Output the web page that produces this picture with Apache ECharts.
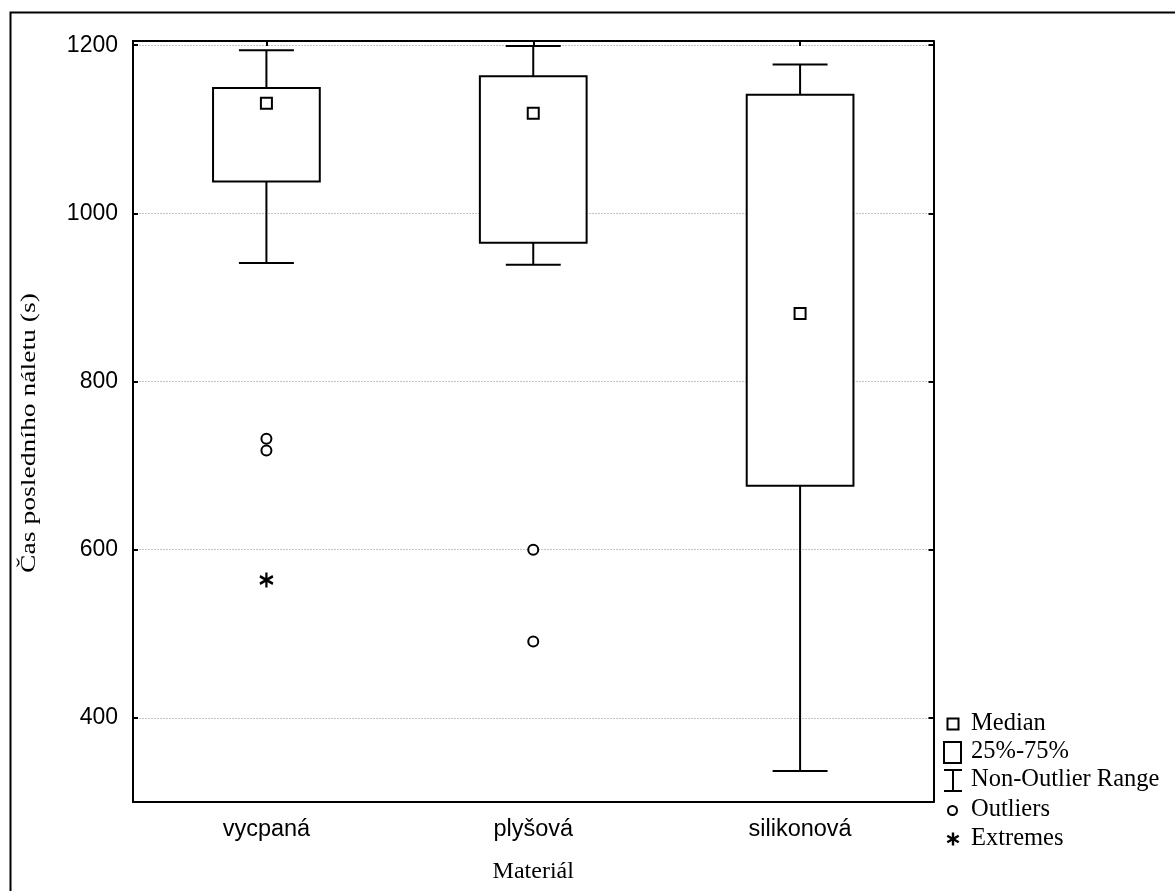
<!DOCTYPE html>
<html>
<head>
<meta charset="utf-8">
<script src="https://cdn.jsdelivr.net/npm/echarts@6/dist/echarts.min.js"></script>
<style>
html,body{margin:0;padding:0;background:#fff;}
#chart{width:1175px;height:891px;}
</style>
</head>
<body>
<div id="chart"></div>
<script>
// ---- data ----
const categories = ['vycpaná', 'plyšová', 'silikonová'];
const whiskerLow  = [941, 939, 337];
const q1          = [1038, 965, 676];
const median      = [1131, 1119, 881];
const q3          = [1149, 1163, 1141];
const whiskerHigh = [1194, 1199, 1177];
const outliers = [['vycpaná', 732], ['vycpaná', 718], ['plyšová', 600], ['plyšová', 491]];
const extremes = [['vycpaná', 564]];
const yTicks = [400, 600, 800, 1000, 1200];
const legendLabels = ['Median', '25%-75%', 'Non-Outlier Range', 'Outliers', 'Extremes'];
const yName = 'Čas posledního náletu (s)';
const xName = 'Materiál';

const chart = echarts.init(document.getElementById('chart'), null, {renderer: 'canvas'});

const boxData = categories.map((c, i) => [i, whiskerLow[i], q1[i], q3[i], whiskerHigh[i]]);
const medianData = categories.map((c, i) => [c, median[i]]);

const SANS = '"Liberation Sans", Arial, sans-serif';
const SERIF = '"Liberation Serif", "Times New Roman", serif';
const asteriskPath = 'path://M0,-6 L0,6 M-5.2,-3 L5.2,3 M-5.2,3 L5.2,-3';

function renderWhisker(params, api) {
  const i = api.value(0);
  const lo = api.coord([i, api.value(1)]);
  const b1 = api.coord([i, api.value(2)]);
  const b3 = api.coord([i, api.value(3)]);
  const hi = api.coord([i, api.value(4)]);
  const band = api.size([1, 0])[0];
  const capHalf = band * 0.103;
  const st = {stroke: '#000', lineWidth: 2, fill: null};
  return {
    type: 'group',
    children: [
      {type: 'line', shape: {x1: hi[0], y1: hi[1], x2: b3[0], y2: b3[1]}, style: st},
      {type: 'line', shape: {x1: lo[0], y1: lo[1], x2: b1[0], y2: b1[1]}, style: st},
      {type: 'line', shape: {x1: hi[0] - capHalf, y1: hi[1], x2: hi[0] + capHalf, y2: hi[1]}, style: st},
      {type: 'line', shape: {x1: lo[0] - capHalf, y1: lo[1], x2: lo[0] + capHalf, y2: lo[1]}, style: st}
    ]
  };
}
function renderBox(params, api) {
  const i = api.value(0);
  const b1 = api.coord([i, api.value(2)]);
  const b3 = api.coord([i, api.value(3)]);
  const band = api.size([1, 0])[0];
  const half = band * 0.2;
  return {
    type: 'rect',
    shape: {x: b3[0] - half, y: b3[1], width: half * 2, height: b1[1] - b3[1]},
    style: {fill: '#fff', stroke: '#000', lineWidth: 2}
  };
}

const yCommon = {
  type: 'value', min: 300, max: 1205, minInterval: 200, maxInterval: 200,
  axisLine: {show: true, lineStyle: {color: '#000', width: 2}},
  axisTick: {show: true, inside: true, length: 5, lineStyle: {color: '#000', width: 2},
    customValues: yTicks},
};

const legendRows = [724, 752, 780, 810, 839];
const LS = {stroke: '#000', lineWidth: 2};
const LS2 = {stroke: '#000', lineWidth: 2.4};
const legendGraphics = [
  {type: 'rect', shape: {x: 10.5, y: 12.5, width: 1300, height: 1000}, style: {fill: 'none', stroke: '#000', lineWidth: 2}, silent: true, z: -1},
  // rotated y-axis title (condensed like the reference)
  {type: 'text', x: 29, y: 433, rotation: Math.PI / 2, scaleX: 1.15, scaleY: 0.9,
    style: {text: yName, font: '24px ' + SERIF, fill: '#000', align: 'center', verticalAlign: 'middle'}},
  {type: 'rect', shape: {x: 947.5, y: 718.5, width: 11, height: 11}, style: {fill: '#fff', stroke: '#000', lineWidth: 2}},
  {type: 'rect', shape: {x: 944, y: 742, width: 17, height: 21}, style: {fill: '#fff', stroke: '#000', lineWidth: 2}},
  {type: 'line', shape: {x1: 944, y1: 770, x2: 962, y2: 770}, style: LS},
  {type: 'line', shape: {x1: 953, y1: 770, x2: 953, y2: 791}, style: LS},
  {type: 'line', shape: {x1: 944, y1: 791, x2: 962, y2: 791}, style: LS},
  {type: 'circle', shape: {cx: 952.5, cy: 810.5, r: 4.5}, style: {fill: '#fff', stroke: '#000', lineWidth: 2}},
  {type: 'line', shape: {x1: 953, y1: 832.5, x2: 953, y2: 845.5}, style: LS2},
  {type: 'line', shape: {x1: 947.3, y1: 835.7, x2: 958.7, y2: 842.3}, style: LS2},
  {type: 'line', shape: {x1: 947.3, y1: 842.3, x2: 958.7, y2: 835.7}, style: LS2}
];
legendLabels.forEach((t, k) => {
  legendGraphics.push({type: 'text', x: 971, y: legendRows[k],
    style: {text: t, font: '24.5px ' + SERIF, fill: '#000', verticalAlign: 'middle', align: 'left'}});
});

const option = {
  backgroundColor: '#fff',
  animation: false,
  grid: {left: 133, top: 41, right: 241.5, bottom: 89, containLabel: false},
  xAxis: [
    {
      type: 'category', data: categories, position: 'bottom',
      axisLine: {show: true, lineStyle: {color: '#000', width: 2}},
      axisTick: {show: false},
      axisLabel: {color: '#000', fontFamily: SANS, fontSize: 23.5, margin: 16},
      name: xName, nameLocation: 'middle', nameGap: 58,
      nameTextStyle: {color: '#000', fontFamily: SERIF, fontSize: 24}
    },
    {
      type: 'category', data: categories, position: 'top',
      axisLine: {show: true, lineStyle: {color: '#000', width: 2}},
      axisTick: {show: true, inside: true, alignWithLabel: true, length: 5, lineStyle: {color: '#000', width: 2}},
      axisLabel: {show: false}
    }
  ],
  yAxis: [
    Object.assign({}, yCommon, {
      position: 'left',
      axisLabel: {color: '#000', fontFamily: SANS, fontSize: 23, margin: 15,
        customValues: yTicks, formatter: (v) => String(v)},
      splitLine: {show: true, lineStyle: {color: '#c4c4c4', width: 1, type: [2, 1]}}
    }),
    Object.assign({}, yCommon, {
      position: 'right',
      axisLabel: {show: false},
      splitLine: {show: false}
    })
  ],
  series: [
    {name: 'Non-Outlier Range', type: 'custom', renderItem: renderWhisker, data: boxData,
      encode: {x: 0, y: [1, 2, 3, 4]}, z: 2},
    {name: '25%-75%', type: 'custom', renderItem: renderBox, data: boxData,
      encode: {x: 0, y: [1, 2, 3, 4]}, z: 3},
    {name: 'Median', type: 'scatter', data: medianData, symbol: 'rect', symbolSize: 11,
      itemStyle: {color: '#fff', borderColor: '#000', borderWidth: 2, opacity: 1}, z: 5},
    {name: 'Outliers', type: 'scatter', data: outliers, symbol: 'circle', symbolSize: 10,
      itemStyle: {color: '#fff', borderColor: '#000', borderWidth: 2, opacity: 1}, z: 5},
    {name: 'Extremes', type: 'scatter', data: extremes, symbol: asteriskPath, symbolSize: [13, 15],
      itemStyle: {color: 'rgba(0,0,0,0)', borderColor: '#000', borderWidth: 2.4, opacity: 1}, z: 5}
  ],
  graphic: legendGraphics
};
chart.setOption(option);
</script>
</body>
</html>
